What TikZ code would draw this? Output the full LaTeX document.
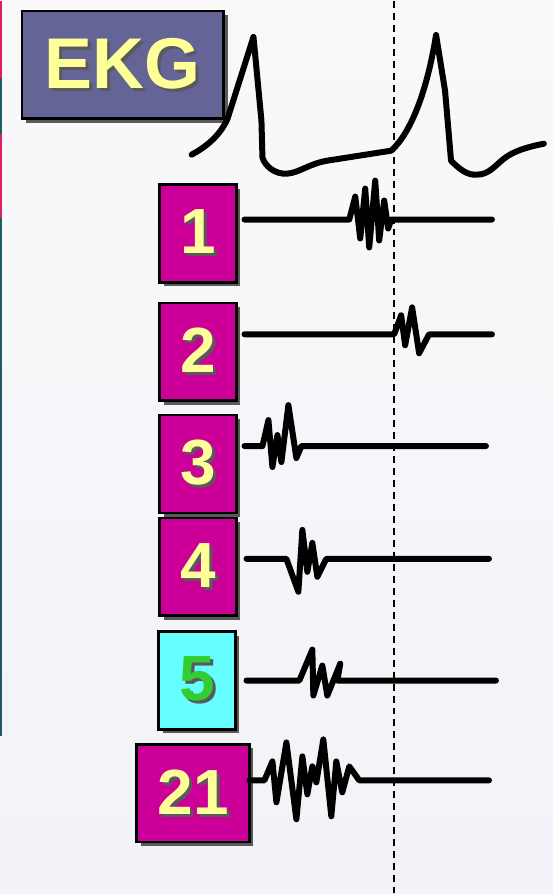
\documentclass[tikz,border=0pt]{standalone}
\usepackage{fontspec}
\setmainfont{Liberation Sans}
\usetikzlibrary{shadows}
\definecolor{bgtop}{HTML}{F9F9FA}
\definecolor{bgbot}{HTML}{F1F3F8}
\definecolor{slate}{HTML}{646496}
\definecolor{lead}{HTML}{CC0099}
\definecolor{aqua}{HTML}{66FFFF}
\definecolor{butter}{HTML}{FFFF99}
\definecolor{leaf}{HTML}{33CC33}
\definecolor{edgered}{HTML}{E0205A}
\definecolor{edgeteal}{HTML}{1E5A60}
\newcommand{\embossed}[1]{\makebox[0pt][l]{\hspace{3pt}\raisebox{-3pt}{\textcolor{black!65}{#1}}}#1}
\tikzset{
  tile/.style={draw=black,line width=2.5pt,fill=lead,text=butter,inner sep=0pt,
    minimum width=77pt,minimum height=98pt,font=\fontsize{64}{64}\selectfont\bfseries,
    drop shadow={shadow xshift=4pt,shadow yshift=-4pt,fill=black!80,opacity=.8}},
  trace/.style={line width=6pt,line cap=round,line join=round},
  marker/.style={line width=1.8pt,dash pattern=on 7pt off 5pt},
}
\begin{document}
\begin{tikzpicture}[x=1pt,y=-1pt]
\shade[top color=bgtop,bottom color=bgbot] (0,0) rectangle (554,894);
% slide edge
\draw[edgeteal,line width=2pt] (1,0) -- (1,737);
\draw[edgered,line width=2pt] (1,0) -- (1,77) (1,133) -- (1,217);

% time marker
\draw[marker] (395,0) -- (395,894);

% labels
\node[tile,fill=slate,minimum width=202pt,minimum height=108pt,font=\fontsize{72}{72}\selectfont\bfseries] (ekg) at (123,64) {\embossed{EKG}};
\node[tile] (l1) at (198.5,233) {\embossed{1}};
\node[tile] (l2) at (198.5,351.5) {\embossed{2}};
\node[tile] (l3) at (198.5,464) {\embossed{3}};
\node[tile] (l4) at (198.5,567) {\embossed{4}};
\node[tile,fill=aqua,text=leaf] (l5) at (197.5,681) {\embossed{5}};
\node[tile,minimum width=113pt] (l21) at (193.5,794) {\embossed{21}};

% ecg trace
\draw[trace] (192,154) .. controls (205,147) and (220,136) .. (228,118) -- (254,36)
  -- (262,120) -- (263,157) .. controls (266,166) and (276,174) .. (288,173)
  .. controls (300,172) and (310,163) .. (328,160) -- (392,150)
  .. controls (412,132) and (428,90) .. (437,34) -- (446,90) -- (452,160)
  .. controls (460,168) and (468,175) .. (478,174) .. controls (490,174) and (496,165) .. (505,158)
  .. controls (515,150) and (530,146) .. (545,143);

% electrode signals
\draw[trace] (245,219) -- (350,219) -- (356,196) -- (361,238) -- (366,188) -- (370,247) -- (376,180)
  -- (380,240) -- (385,200) -- (389,228) -- (392,219) -- (493,219);
\draw[trace] (245,334) -- (395,334) -- (402,315) -- (406,345) -- (413,307) -- (420,353) -- (430,334) -- (493,334);
\draw[trace] (245,446) -- (263,446) -- (269,420) -- (273,467) -- (278,435) -- (282,462) -- (289,405)
  -- (297,458) -- (302,446) -- (487,446);
\draw[trace] (247,559) -- (287,559) -- (299,592) -- (303,530) -- (308,572) -- (313,543) -- (318,577)
  -- (327,559) -- (490,559);
\draw[trace] (247,681) -- (300,681) -- (313,650) -- (314,696) -- (323,666) -- (328,696) -- (341,664)
  -- (338,681) -- (497,681);
\draw[trace] (250,781) -- (265,781) -- (273,762) -- (277,803) -- (287,743) -- (297,820) -- (303,757)
  -- (308,795) -- (313,767) -- (317,783) -- (324,740) -- (332,817) -- (337,762) -- (343,793)
  -- (350,767) -- (360,781) -- (490,781);
\end{tikzpicture}
\end{document}
